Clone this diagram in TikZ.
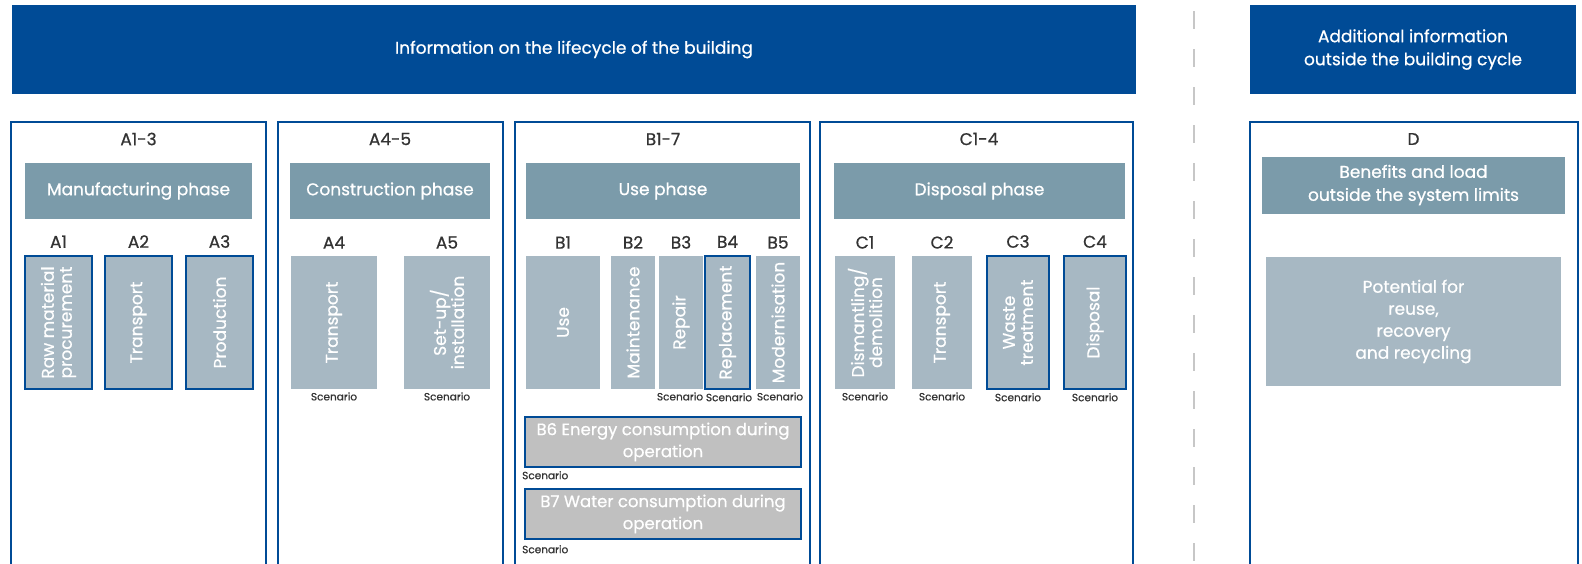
\documentclass[tikz,border=0pt]{standalone}
\usepackage{fontspec}
\setmainfont{Poppins}[UprightFeatures={FakeBold=0.7}]
\usetikzlibrary{positioning}
\definecolor{epdblue}{HTML}{004B96}
\definecolor{phasegray}{HTML}{7B9BAA}
\definecolor{stagegray}{HTML}{A7B8C3}
\definecolor{opgray}{HTML}{C0C0C0}
\definecolor{codetext}{HTML}{333333}
\tikzset{banner/.style={fill=epdblue, text=white, inner sep=0pt, align=center, font=\fontsize{17}{23}\selectfont},
         module/.style={draw=epdblue, line width=2.5pt, inner sep=0pt},
         phase/.style={fill=phasegray, text=white, inner sep=0pt, align=center, font=\fontsize{17}{23}\selectfont},
         stage/.style={fill=stagegray, text=white, inner sep=0pt, align=center, rotate=90, minimum width=133, font=\fontsize{17}{18}\selectfont},
         marked/.style={draw=epdblue, line width=2pt},
         opbox/.style={fill=opgray, text=white, draw=epdblue, line width=2pt, inner sep=0pt, align=center, font=\fontsize{16.5}{22}\selectfont},
         code/.style={text=codetext, inner sep=0pt, font=\fontsize{17}{18}\selectfont},
         scen/.style={text=codetext, inner sep=0pt, font=\fontsize{10.5}{12}\selectfont},
        }

\begin{document}
\begin{tikzpicture}[x=1pt, y=-1pt]
        \useasboundingbox (0,0) rectangle (1582,563);
        \clip (0,0) rectangle (1582,563);

        % banners and separator
        \node[banner, minimum width=1124, minimum height=89](life)at(574,49.5){Information on the lifecycle of the building};
        \node[banner, minimum width=326, minimum height=89](extra)at(1413,49.5){Additional information\\outside the building cycle};
        \coordinate (sep top) at (1194,11);
        \coordinate (sep bot) at (1194,563);
        \draw[black!22, line width=2pt, dash pattern=on 18pt off 20pt](sep top)--(sep bot);

        % module frames, run off the bottom edge
        \node[module, minimum width=255, minimum height=480](modA)at(138.5,362){};
        \node[module, minimum width=225, minimum height=480](modAc)at(390.5,362){};
        \node[module, minimum width=295, minimum height=480](modB)at(662.5,362){};
        \node[module, minimum width=313, minimum height=480](modC)at(976.5,362){};
        \node[module, minimum width=328, minimum height=480](modD)at(1414,362){};

        \node[code](hA)at(138.5,139){A1-3};
        \node[code](hAc)at(390,139){A4-5};
        \node[code](hB)at(663,139){B1-7};
        \node[code](hC)at(979,139){C1-4};
        \node[code](hD)at(1413.5,139){D};

        % phases
        \node[phase, minimum width=227, minimum height=56](manu)at(138.5,191){Manufacturing phase};
        \node[phase, minimum width=200, minimum height=56](constr)at(390,191){Construction phase};
        \node[phase, minimum width=274, minimum height=56](use)at(663,191){Use phase};
        \node[phase, minimum width=291, minimum height=56](disp)at(979.5,191){Disposal phase};
        \node[phase, minimum width=303, minimum height=57](benef)at(1413.5,185){Benefits and load\\outside the system limits};

        % A1-3
        \node[stage, marked, minimum height=67](a1)at(58.5,322.5){Raw material\\procurement};
        \node[stage, marked, minimum height=67](a2)at(138.5,322.5){Transport};
        \node[stage, marked, minimum height=67](a3)at(219.5,322.5){Production};
        \node[code, above=7pt of a1.east](ca1){A1};
        \node[code, above=7pt of a2.east](ca2){A2};
        \node[code, above=7pt of a3.east](ca3){A3};

        % A4-5
        \node[stage, minimum height=86](a4)at(334,322.5){Transport};
        \node[stage, minimum height=86](a5)at(447,322.5){Set-up/\\installation};
        \node[code, above=7pt of a4.east](ca4){A4};
        \node[code, above=7pt of a5.east](ca5){A5};
        \node[scen, below=3pt of a4.west](sa4){Scenario};
        \node[scen, below=3pt of a5.west](sa5){Scenario};

        % B1-5
        \node[stage, minimum height=74](b1)at(563,322.5){Use};
        \node[stage, minimum height=44](b2)at(633,322.5){Maintenance};
        \node[stage, minimum height=44](b3)at(681,322.5){Repair};
        \node[stage, marked, minimum height=45](b4)at(727.5,322.5){Replacement};
        \node[stage, minimum height=44](b5)at(778,322.5){Modernisation};
        \node[code, above=7pt of b1.east](cb1){B1};
        \node[code, above=7pt of b2.east](cb2){B2};
        \node[code, above=7pt of b3.east](cb3){B3};
        \node[code, above=7pt of b4.east](cb4){B4};
        \node[code, above=7pt of b5.east](cb5){B5};
        \node[scen, below=3pt of b3.west, xshift=-1pt](sb3){Scenario};
        \node[scen, below=3pt of b4.west, xshift=1.5pt](sb4){Scenario};
        \node[scen, below=3pt of b5.west, xshift=2pt](sb5){Scenario};

        % B6-7
        \node[opbox, minimum width=276, minimum height=50](b6)at(663,442){B6 Energy consumption during\\operation};
        \node[opbox, minimum width=276, minimum height=50](b7)at(663,514){B7 Water consumption during\\operation};
        \node[scen, anchor=north west](sb6)at(522,471){Scenario};
        \node[scen, anchor=north west](sb7)at(522,545){Scenario};

        % C1-4
        \node[stage, minimum height=60](c1)at(865,322.5){Dismantling/\\demolition};
        \node[stage, minimum height=60](c2)at(942,322.5){Transport};
        \node[stage, marked, minimum height=62](c3)at(1018,322.5){Waste\\treatment};
        \node[stage, marked, minimum height=62](c4)at(1095,322.5){Disposal};
        \node[code, above=7pt of c1.east](cc1){C1};
        \node[code, above=7pt of c2.east](cc2){C2};
        \node[code, above=7pt of c3.east](cc3){C3};
        \node[code, above=7pt of c4.east](cc4){C4};
        \node[scen, below=3pt of c1.west](sc1){Scenario};
        \node[scen, below=3pt of c2.west](sc2){Scenario};
        \node[scen, below=3pt of c3.west](sc3){Scenario};
        \node[scen, below=3pt of c4.west](sc4){Scenario};

        % D
        \node[stage, rotate=-90, minimum width=295, minimum height=129, font=\fontsize{17}{22}\selectfont](recyc)at(1413.5,321.5){Potential for\\reuse,\\recovery\\and recycling};
\end{tikzpicture}
\end{document}
